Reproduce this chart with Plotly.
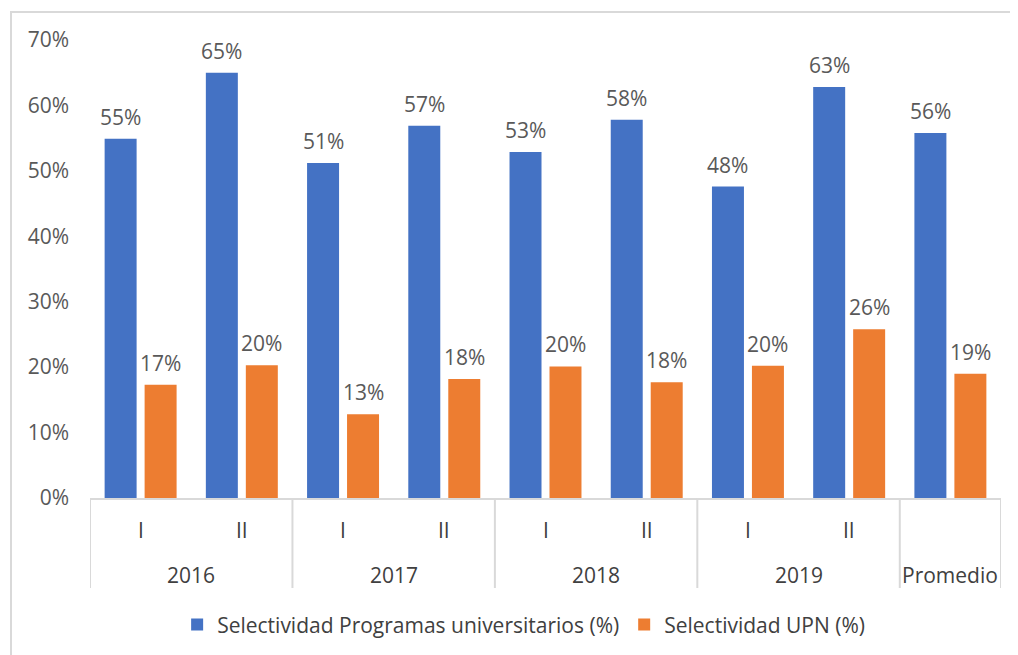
import plotly.graph_objects as go

years = ["2016", "2016", "2017", "2017", "2018", "2018", "2019", "2019", "Promedio"]
periods = ["I", "II", "I", "II", "I", "II", "I", "II", ""]
programas = [0.549, 0.650, 0.512, 0.569, 0.529, 0.578, 0.476, 0.628, 0.558]
upn = [0.173, 0.203, 0.128, 0.182, 0.201, 0.177, 0.202, 0.258, 0.190]
series_names = ["Selectividad Programas universitarios (%)", "Selectividad UPN (%)"]
y_ticks = [0, 0.1, 0.2, 0.3, 0.4, 0.5, 0.6, 0.7]

FONT = "Open Sans"
GREY = "#595959"
DARK = "#404040"
LINE = "#D9D9D9"
FS = 21

cats = [f"{y} {p}".strip() for y, p in zip(years, periods)]

fig = go.Figure()
fig.add_trace(go.Bar(x=cats, y=programas, name=series_names[0],
                     marker=dict(color="#4472C4", line=dict(width=0))))
fig.add_trace(go.Bar(x=cats, y=upn, name=series_names[1],
                     marker=dict(color="#ED7D31", line=dict(width=0))))

annotations = []
# data labels
for vals, dx in ((programas, -20), (upn, 20)):
    for i, v in enumerate(vals):
        annotations.append(dict(x=i, y=v, xref="x", yref="y", text=f"{round(v*100)}%",
                                showarrow=False, xshift=dx, yshift=22,
                                font=dict(family=FONT, size=FS, color=GREY)))
# inner category labels
for i, p in enumerate(periods):
    if p:
        annotations.append(dict(x=i, y=-0.0699, xref="x", yref="paper", text=p,
                                showarrow=False, yanchor="middle",
                                font=dict(family=FONT, size=FS, color=DARK)))
# group labels and dividers
groups = []
for i, y in enumerate(years):
    if groups and groups[-1][0] == y:
        groups[-1][2] = i
    else:
        groups.append([y, i, i])
shapes = []
for g, a, b in groups:
    annotations.append(dict(x=(a + b) / 2, y=-0.168, xref="x", yref="paper", text=g,
                            showarrow=False, yanchor="middle",
                            font=dict(family=FONT, size=FS, color=DARK)))
bounds = [groups[0][1] - 0.5] + [b + 0.5 for _, _, b in groups]
for xb in bounds:
    shapes.append(dict(type="line", xref="x", yref="paper", x0=xb, x1=xb, y0=0, y1=-0.1965,
                       line=dict(color=LINE, width=2)))
shapes.append(dict(type="rect", xref="paper", yref="paper",
                   x0=-0.0867, x1=1.08, y0=-0.45, y1=1.061,
                   line=dict(color=LINE, width=2), fillcolor="rgba(0,0,0,0)", layer="below"))

fig.update_layout(
    width=1018, height=655,
    margin=dict(l=82, r=25, t=32, b=165),
    paper_bgcolor="white", plot_bgcolor="white",
    barmode="group", bargap=0.21, bargroupgap=0.2,
    font=dict(family=FONT, size=FS, color=GREY),
    showlegend=True,
    legend=dict(orientation="h", x=0.476, xanchor="center", y=-0.277, yanchor="middle",
                font=dict(family=FONT, size=FS, color=DARK), itemwidth=30,
                traceorder="normal"),
    annotations=annotations,
    shapes=shapes,
)
fig.update_yaxes(range=[0, 0.7], tickvals=y_ticks, tickformat=".0%", showgrid=False,
                 zeroline=False, showline=False, ticks="", ticklabelstandoff=20,
                 tickfont=dict(family=FONT, size=FS, color=GREY))
fig.update_xaxes(type="category", showline=True, linecolor=LINE, linewidth=2,
                 showticklabels=False, ticks="", showgrid=False,
                 range=[-0.5, len(cats) - 0.5])

fig.write_html("out.html")
